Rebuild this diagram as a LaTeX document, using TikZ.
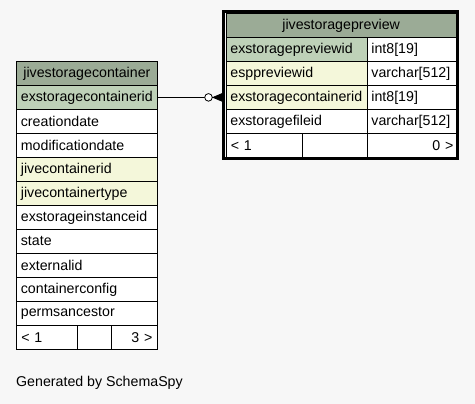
\documentclass[tikz,border=0pt]{standalone}
\usepackage{fontspec}
\setmainfont{Liberation Sans}
\definecolor{bgc}{HTML}{F7F7F7}
\definecolor{hdr}{HTML}{9BAB96}
\definecolor{pkc}{HTML}{BED1B8}
\definecolor{idx}{HTML}{F4F7DA}
\begin{document}
\begin{tikzpicture}[x=1pt,y=-1pt,
  cell/.style={draw=black, line width=0.8pt, minimum height=24pt, inner ysep=0pt,
    inner xsep=5pt, anchor=north west, align=left, fill=white,
    font=\fontsize{14.2}{16}\selectfont},
  lcell/.style={cell, text width=132pt, inner xsep=4.5pt},
  rcA/.style={cell, text width=132.5pt, inner xsep=4.5pt},
  rcB/.style={cell, inner xsep=4pt, text width=81pt},
  hdrcell/.style={cell, fill=hdr, align=center},
  pk/.style={fill=pkc},
  ix/.style={fill=idx},
]
\fill[bgc] (0,0) rectangle (475,404);
\useasboundingbox (0,0) rectangle (475,404);

% left table
\node[hdrcell, text width=131pt] (lh) at (16,61) {jivestoragecontainer};
\node[lcell, pk] (l1) at (16,85) {exstoragecontainerid};
\node[lcell] (l2) at (16,109) {creationdate};
\node[lcell] (l3) at (16,133) {modificationdate};
\node[lcell, ix] (l4) at (16,157) {jivecontainerid};
\node[lcell, ix] (l5) at (16,181) {jivecontainertype};
\node[lcell] (l6) at (16,205) {exstorageinstanceid};
\node[lcell] (l7) at (16,229) {state};
\node[lcell] (l8) at (16,253) {externalid};
\node[lcell] (l9) at (16,277) {containerconfig};
\node[lcell] (l10) at (16,301) {permsancestor};
\node[cell, minimum width=61pt, text width=51pt] (lf1) at (16,325) {< 1};
\node[cell, minimum width=34pt, text width={}, inner xsep=0pt] (lf2) at (77,325) {};
\node[cell, text width=36pt, align=right] (lf3) at (111,325) {3 >};

% right table
\node[hdrcell, text width=220.5pt] (rh) at (225.5,13) {jivestoragepreview};
\node[rcA, pk] (r1a) at (225.5,37) {exstoragepreviewid};
\node[rcB] (r1b) at (367,37) {int8[19]};
\node[rcA, ix] (r2a) at (225.5,61) {esppreviewid};
\node[rcB] (r2b) at (367,61) {varchar[512]};
\node[rcA, ix] (r3a) at (225.5,85) {exstoragecontainerid};
\node[rcB] (r3b) at (367,85) {int8[19]};
\node[rcA] (r4a) at (225.5,109) {exstoragefileid};
\node[rcB] (r4b) at (367,109) {varchar[512]};
\node[cell, text width=66.5pt] (rf1) at (225.5,133) {< 1};
\node[cell, minimum width=65pt, text width={}, inner xsep=0pt] (rf2) at (302,133) {};
\node[cell, text width=81pt, align=right] (rf3) at (367,133) {0 >};
\draw[line width=3.2pt] (223.8,11.5) rectangle (457.5,158.6);

% connector
\path (208.5,0) coordinate (cx) (222.5,0) coordinate (tx);
\coordinate (cc) at (l1.east -| cx);
\coordinate (tip) at (l1.east -| tx);
\draw[line width=0.8pt] (l1.east) -- ([xshift=-3.8pt]cc);
\draw[line width=0.8pt, fill=white] (cc) circle (3.8pt);
\draw[line width=0.8pt, fill=black] ([xshift=4.5pt]cc) -- ([yshift=-4pt]tip) -- ([yshift=4pt]tip) -- cycle;
\draw[line width=0.8pt] ([xshift=3.8pt]cc) -- (tip);

\node[anchor=west, inner sep=0pt, font=\fontsize{14.2}{16}\selectfont] (gen) at (16,383) {Generated by SchemaSpy};
\end{tikzpicture}
\end{document}
